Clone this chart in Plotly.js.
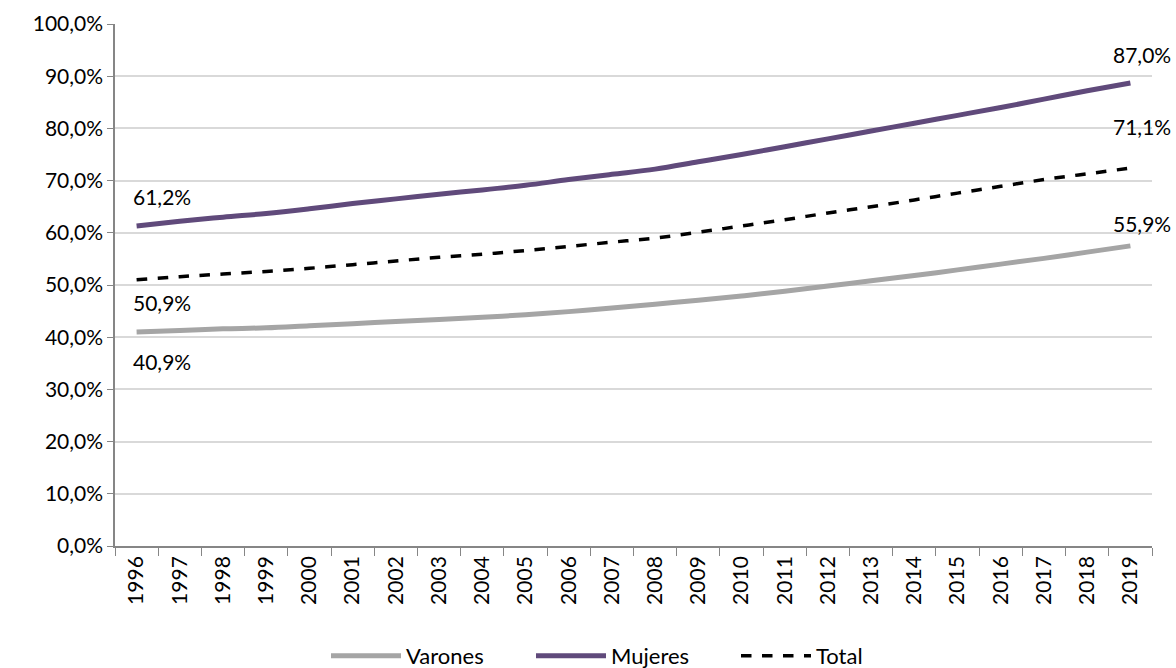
<!DOCTYPE html>
<html><head><meta charset="utf-8">
<script src="https://cdn.plot.ly/plotly-3.0.1.min.js"></script>
<style>body{margin:0}#chart{width:1176px;height:668px}</style>
</head><body><div id="chart"></div>
<script>
var years = ['1996','1997','1998','1999','2000','2001','2002','2003','2004','2005','2006','2007','2008','2009','2010','2011','2012','2013','2014','2015','2016','2017','2018','2019'];
var varones = [41.0,41.3,41.6,41.8,42.2,42.6,43.0,43.4,43.8,44.3,44.9,45.6,46.3,47.1,47.9,48.8,49.8,50.8,51.8,52.9,54.0,55.1,56.3,57.5];
var mujeres = [61.3,62.2,63.0,63.7,64.6,65.6,66.5,67.4,68.2,69.1,70.2,71.2,72.2,73.6,75.0,76.5,78.0,79.5,81.0,82.5,84.0,85.6,87.2,88.7];
var total = [51.0,51.6,52.1,52.6,53.2,53.9,54.6,55.3,55.9,56.6,57.4,58.2,59.0,60.1,61.3,62.5,63.8,65.0,66.3,67.6,68.9,70.2,71.3,72.4];
var firstLabels = ['40,9%','61,2%','50,9%'];
var lastLabels = ['55,9%','87,0%','71,1%'];

var font = {family:'Lato, sans-serif', size:21, color:'#000'};
var traces = [
  {x:years, y:varones, name:'Varones', mode:'lines', line:{color:'#a5a5a5', width:5, shape:'spline'}},
  {x:years, y:mujeres, name:'Mujeres', mode:'lines', line:{color:'#604a7b', width:5, shape:'spline'}},
  {x:years, y:total, name:'Total', mode:'lines', line:{color:'#000', width:3.5, dash:'dash', shape:'spline'}}
];
var series = [varones, mujeres, total];
var firstOff = [-30, 30, -23];
var lastOff = [22, 28, 42];
var ann = [];
series.forEach(function(s, i){
  ann.push({x:0, y:s[0], xref:'x', text:firstLabels[i], showarrow:false, xanchor:'left', xshift:-6, yshift:firstOff[i], font:font});
  ann.push({x:years.length-1, y:s[s.length-1], xref:'x', text:lastLabels[i], showarrow:false, xshift:12, yshift:lastOff[i], font:font});
});
var layout = {
  width:1176, height:668,
  margin:{l:115, r:24, t:24, b:122},
  paper_bgcolor:'#fff', plot_bgcolor:'#fff',
  font:font,
  showlegend:true,
  legend:{orientation:'h', x:0.5, xanchor:'center', yref:'container', y:0.018, yanchor:'middle', itemwidth:70, entrywidth:120, font:{family:'Lato, sans-serif', size:22, color:'#000'}},
  xaxis:{type:'category', categoryarray:years, range:[-0.5, years.length-0.5], autorange:false, tickangle:-90, showgrid:false, showline:true, linecolor:'#868686', linewidth:1.5,
         ticks:'outside', ticklen:8, tickcolor:'#868686', tickson:'boundaries', tickfont:font, automargin:false},
  yaxis:{range:[0,100], dtick:10, ticksuffix:'%', tickformat:'.1f', showgrid:true, gridcolor:'#d9d9d9', gridwidth:1.5,
         showline:true, linecolor:'#868686', linewidth:1.5, ticks:'outside', ticklen:6, tickcolor:'#868686', zeroline:false, tickfont:font, automargin:false},
  separators:',.',
  annotations:ann
};
Plotly.newPlot('chart', traces, layout, {displayModeBar:false});
</script></body></html>
